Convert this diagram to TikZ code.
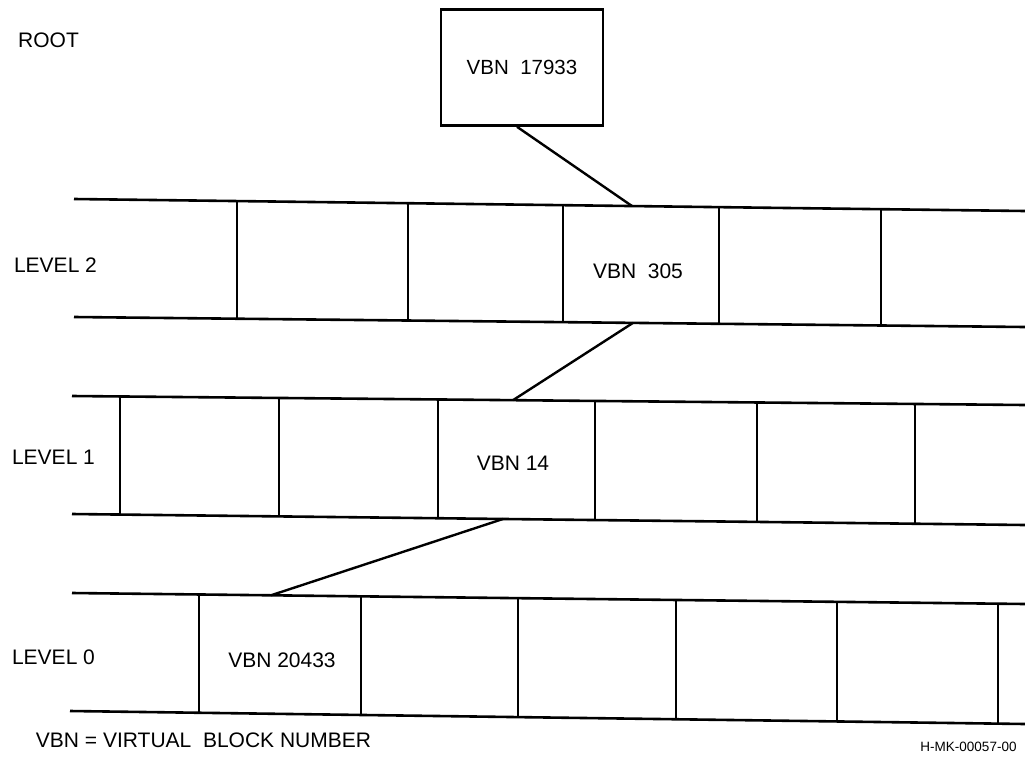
\documentclass[tikz,border=0pt]{standalone}
\usepackage{fontspec}
\setmainfont{Liberation Sans}
\usetikzlibrary{calc}
\begin{document}
\begin{tikzpicture}[x=1pt,y=-1pt,
  band/.style={line width=2.6pt},
  divider/.style={line width=2.2pt},
  link/.style={line width=2.4pt},
  lbl/.style={inner sep=0pt, font=\fontsize{21}{24}\selectfont},
  small/.style={inner sep=0pt, font=\fontsize{13.5}{16}\selectfont},
  rootbox/.style={draw, line width=2.6pt, minimum width=162pt, minimum height=116pt, inner sep=0pt, font=\fontsize{20.5}{24}\selectfont}
]
\useasboundingbox (0,0) rectangle (1025,763);
\fill[white] (0,0) rectangle (1025,763);

% band edge functions
\pgfmathdeclarefunction{tTwo}{1}{\pgfmathparse{199+12*(#1-74)/951}}
\pgfmathdeclarefunction{bTwo}{1}{\pgfmathparse{317+10*(#1-74)/951}}
\pgfmathdeclarefunction{tOne}{1}{\pgfmathparse{396+9*(#1-72)/953}}
\pgfmathdeclarefunction{bOne}{1}{\pgfmathparse{514+11*(#1-72)/953}}
\pgfmathdeclarefunction{tZero}{1}{\pgfmathparse{593+11*(#1-72)/953}}
\pgfmathdeclarefunction{bZero}{1}{\pgfmathparse{711+13*(#1-70)/955}}

% labels
\node[lbl] (root) at (48.5,40.5) {ROOT};
\node[lbl] (lv2) at (55.5,265) {LEVEL 2};
\node[lbl] (lv1) at (53.5,457) {LEVEL 1};
\node[lbl] (lv0) at (53.5,657) {LEVEL 0};

% root box
\node[rootbox] (rbox) at (522,67.5) {VBN\ \ 17933};

% level 2 band
\draw[band] (74,199) -- (1025,211);
\draw[band] (74,317) -- (1025,327);
\foreach \xx in {237,408,563,719,881}{
  \draw[divider] (\xx,{tTwo(\xx)}) -- (\xx,{bTwo(\xx)});
}
\node[lbl] (v305) at (638,271) {VBN\ \ 305};

% level 1 band
\draw[band] (72,396) -- (1025,405);
\draw[band] (72,514) -- (1025,525);
\foreach \xx in {120,279,438,595,757,915}{
  \draw[divider] (\xx,{tOne(\xx)}) -- (\xx,{bOne(\xx)});
}
\node[lbl] (v14) at (513,463) {VBN 14};

% level 0 band
\draw[band] (72,593) -- (1025,604);
\draw[band] (70,711) -- (1025,724);
\foreach \xx in {199,361,518,676,837,998}{
  \draw[divider] (\xx,{tZero(\xx)}) -- (\xx,{bZero(\xx)});
}
\node[lbl] (v20433) at (282,660) {VBN 20433};

% connectors
\coordinate (r2) at (632,{tTwo(632)});
\coordinate (b2) at (633,{bTwo(633)});
\coordinate (t1) at (513,{tOne(513)});
\coordinate (b1) at (503,{bOne(503)});
\coordinate (t0) at (271,{tZero(271)});
\draw[link] ([xshift=-5pt]rbox.south) -- (r2);
\draw[link] (b2) -- (t1);
\draw[link] (b1) -- (t0);

% footer
\node[lbl] (legend) at (203.5,740) {VBN = VIRTUAL\ \ BLOCK NUMBER};
\node[small] (code) at (968.5,747) {H-MK-00057-00};
\end{tikzpicture}
\end{document}
